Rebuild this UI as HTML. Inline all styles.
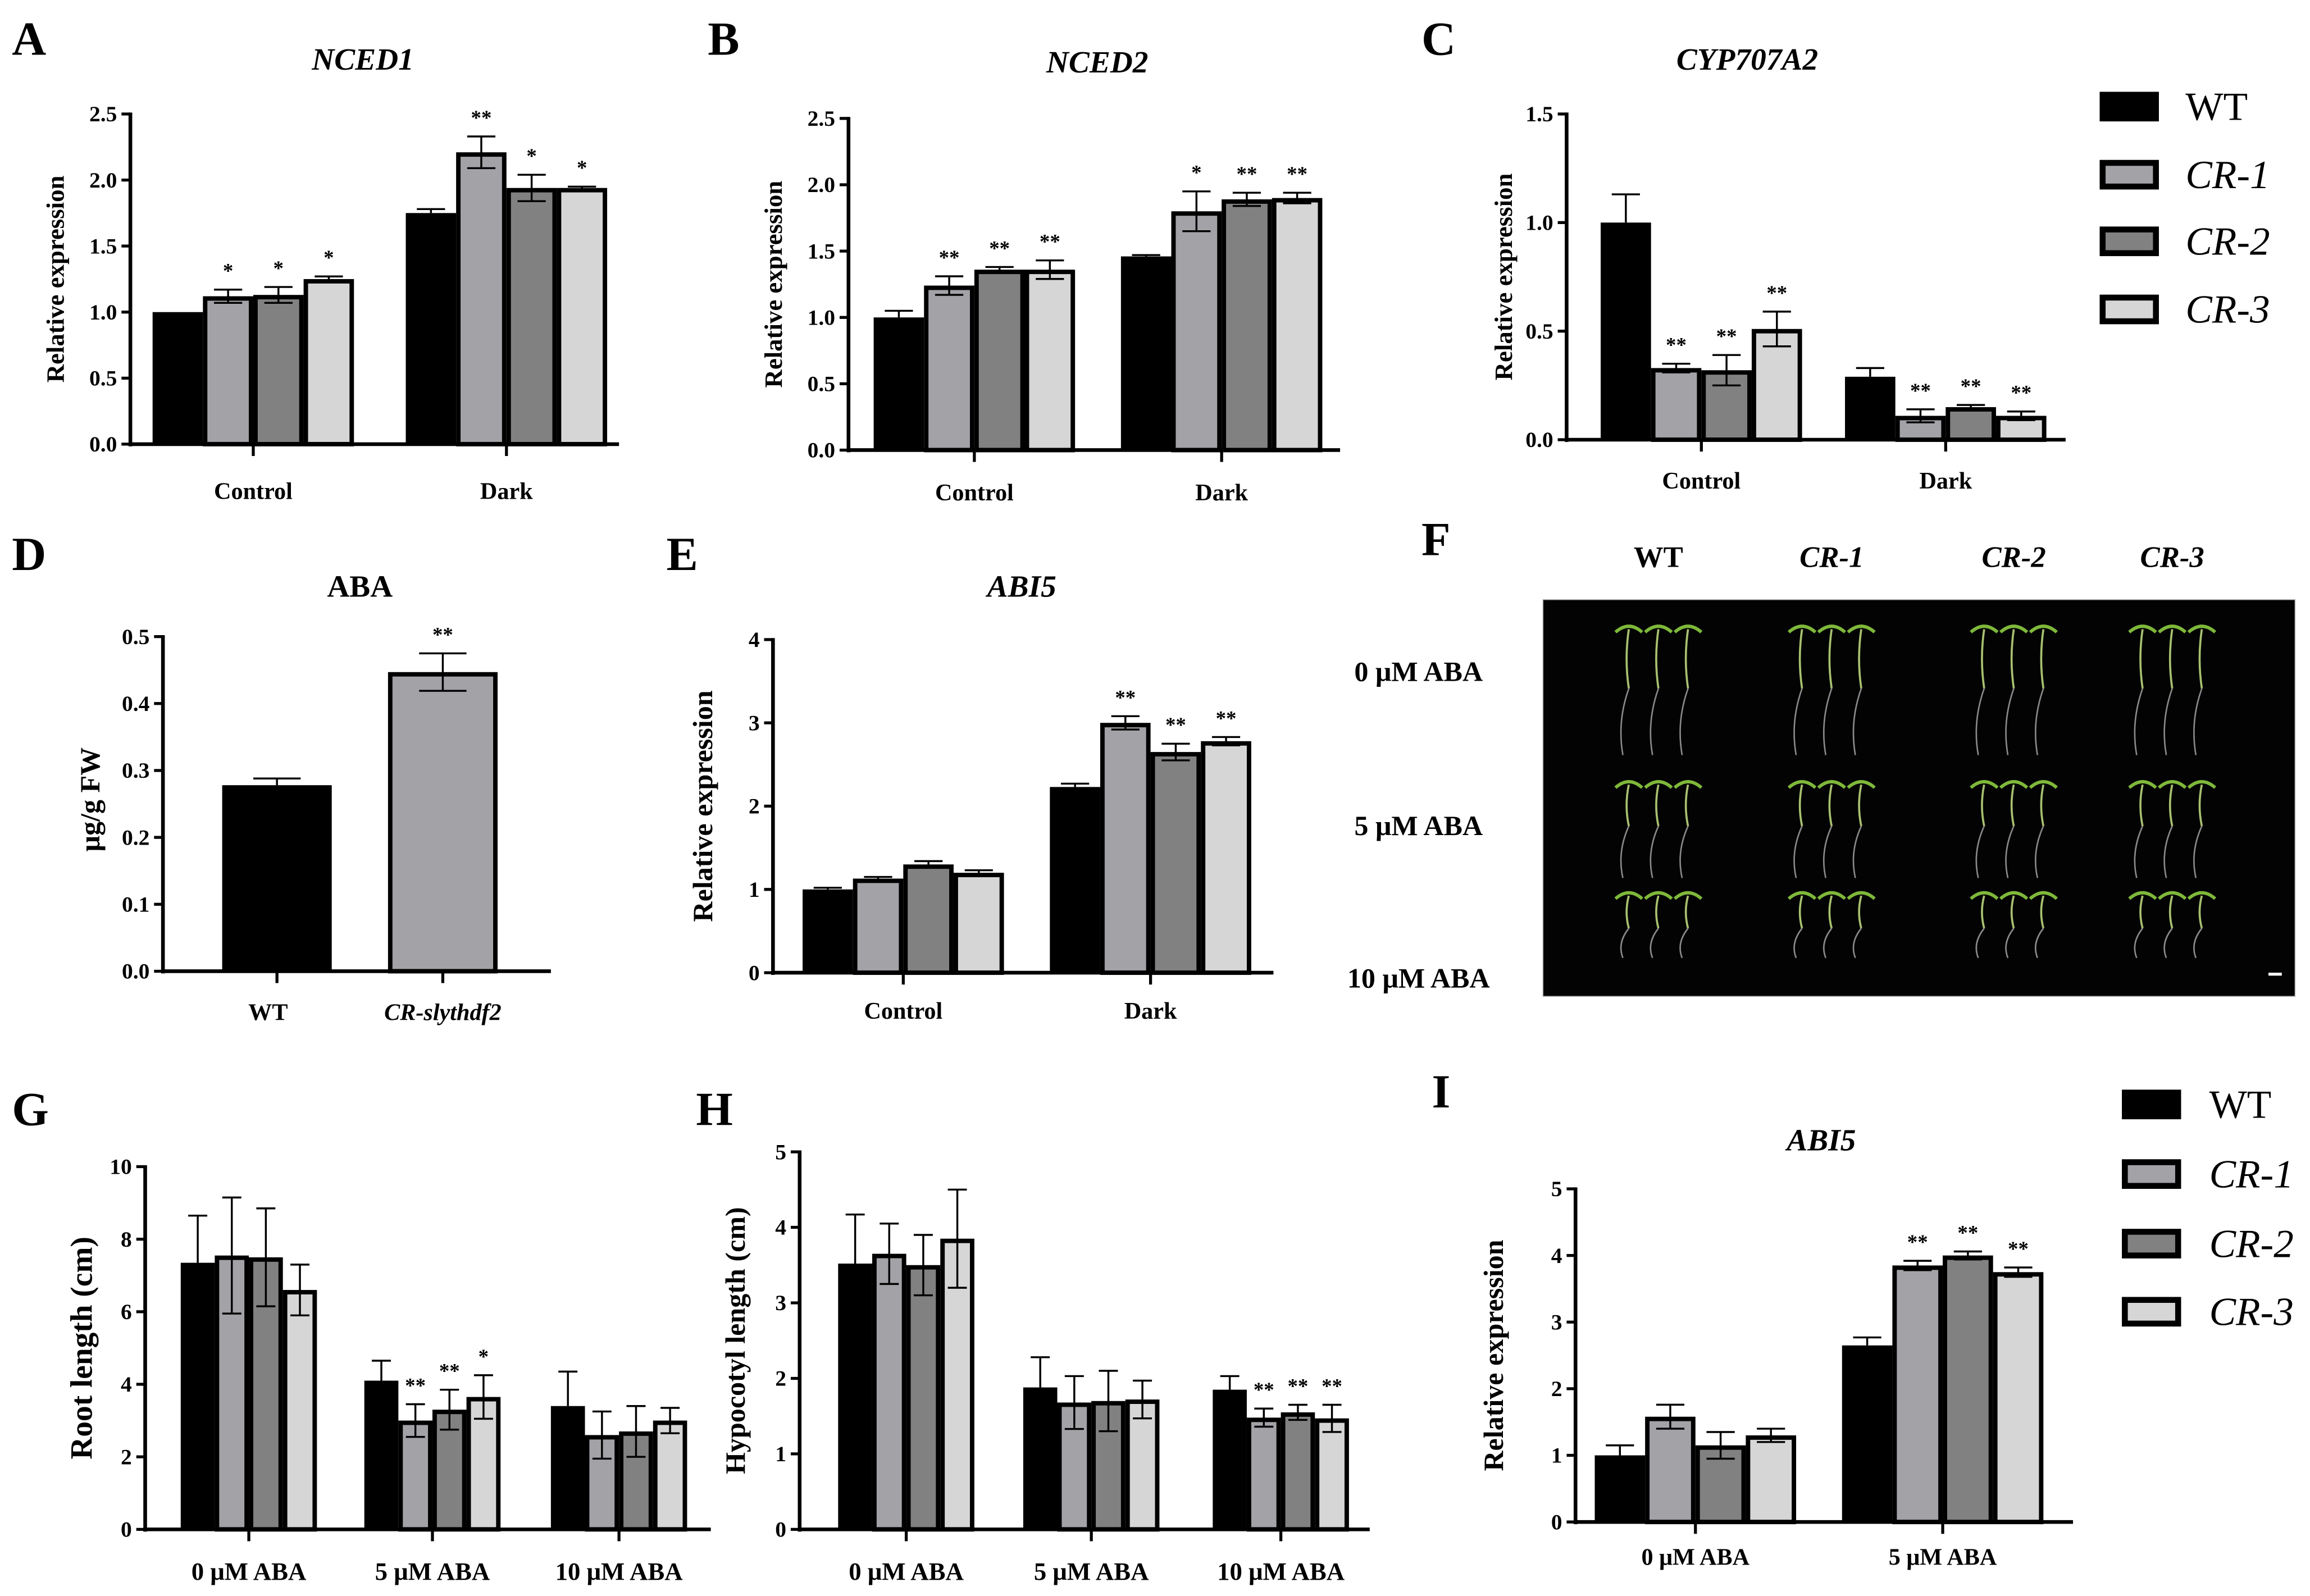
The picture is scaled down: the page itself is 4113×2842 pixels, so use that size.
<!DOCTYPE html>
<html><head><meta charset="utf-8"><style>
html,body{margin:0;padding:0;background:#fff;}
svg{display:block;}
text{font-family:"Liberation Serif",serif;}
</style></head><body>
<svg id="fig" width="4113" height="2842" viewBox="0 0 1560 1078" xmlns="http://www.w3.org/2000/svg">
<rect x="0" y="0" width="1560" height="1078" fill="#fff"/>
<g id="root"></g>
</svg>
<script>
// ---------- data ----------
const seriesNames = ["WT","CR-1","CR-2","CR-3"];
const seriesColors = ["#000000","#a2a2a7","#818181","#d6d6d6"];

const aGroups = ["Control","Dark"];
const aWT = [1.00,1.75], aCR1=[1.12,2.21], aCR2=[1.13,1.94], aCR3=[1.25,1.94];
const aErr = [[0.00,0.03],[0.05,0.12],[0.06,0.10],[0.02,0.01]];
const aStars = [["",""],["*","**"],["*","*"],["*","*"]];
const aTicks = [0,0.5,1.0,1.5,2.0,2.5];

const bGroups = ["Control","Dark"];
const bWT=[1.00,1.46], bCR1=[1.24,1.80], bCR2=[1.36,1.89], bCR3=[1.36,1.90];
const bErr=[[0.05,0.01],[0.07,0.15],[0.02,0.05],[0.07,0.04]];
const bStars=[["",""],["**","*"],["**","**"],["**","**"]];
const bTicks=[0,0.5,1.0,1.5,2.0,2.5];

const cGroups=["Control","Dark"];
const cWT=[1.00,0.29], cCR1=[0.33,0.11], cCR2=[0.32,0.15], cCR3=[0.51,0.11];
const cErr=[[0.13,0.04],[0.02,0.03],[0.07,0.01],[0.08,0.02]];
const cStars=[["",""],["**","**"],["**","**"],["**","**"]];
const cTicks=[0,0.5,1.0,1.5];

const dCats=["WT","CR-slythdf2"];
const dVals=[0.278,0.447];
const dErr=[0.010,0.028];
const dStars=["","**"];
const dTicks=[0,0.1,0.2,0.3,0.4,0.5];

const eGroups=["Control","Dark"];
const eWT=[1.00,2.23], eCR1=[1.13,3.00], eCR2=[1.30,2.65], eCR3=[1.20,2.78];
const eErr=[[0.02,0.04],[0.02,0.08],[0.04,0.10],[0.03,0.05]];
const eStars=[["",""],["","**"],["","**"],["","**"]];
const eTicks=[0,1,2,3,4];

const gGroups=["0 μM ABA","5 μM ABA","10 μM ABA"];
const gWT=[7.35,4.10,3.40], gCR1=[7.55,3.00,2.60], gCR2=[7.50,3.30,2.70], gCR3=[6.60,3.65,3.00];
const gErr=[[1.30,0.55,0.95],[1.60,0.45,0.65],[1.35,0.55,0.70],[0.70,0.60,0.35]];
const gStars=[["","",""],["","**",""],["","**",""],["","*",""]];
const gTicks=[0,2,4,6,8,10];

const hGroups=["0 μM ABA","5 μM ABA","10 μM ABA"];
const hWT=[3.52,1.88,1.85], hCR1=[3.65,1.68,1.48], hCR2=[3.50,1.70,1.55], hCR3=[3.85,1.72,1.47];
const hErr=[[0.65,0.40,0.18],[0.40,0.35,0.12],[0.40,0.40,0.10],[0.65,0.25,0.18]];
const hStars=[["","",""],["","","**"],["","","**"],["","","**"]];
const hTicks=[0,1,2,3,4,5];

const iGroups=["0 μM ABA","5 μM ABA"];
const iWT=[1.00,2.65], iCR1=[1.58,3.85], iCR2=[1.15,4.00], iCR3=[1.30,3.75];
const iErr=[[0.15,0.12],[0.18,0.07],[0.20,0.06],[0.10,0.07]];
const iStars=[["",""],["","**"],["","**"],["","**"]];
const iTicks=[0,1,2,3,4,5];

// ---------- drawing ----------
const NS="http://www.w3.org/2000/svg";
const root=document.getElementById('root');
function el(tag,attrs,parent,txt){
  const e=document.createElementNS(NS,tag);
  for(const k in attrs) e.setAttribute(k,attrs[k]);
  if(txt!==undefined) e.textContent=txt;
  (parent||root).appendChild(e);
  return e;
}
function fmt(v,dec){return v.toFixed(dec);}

function panel(c){
  const g=el('g',{});
  
  
  const ys=v=>c.y0-(v/c.ymax)*(c.y0-c.yTop);
  const L=el('text',{x:c.letterX,y:c.letterY,'font-size':32,'font-weight':'bold'},g,c.letter);
  
  
  if(c.title){
    const t=el('text',{x:c.titleX,y:c.titleY,'font-size':21,'font-weight':'bold','font-style':c.titleItalic?'italic':'normal','text-anchor':'middle'},g,c.title);
    
    
  }
  c.series.forEach((vals,s)=>{
    vals.forEach((v,gi)=>{
      const n=c.series.length;
      const x=c.centers[gi]-n*c.bw/2+s*c.bw;
      const y=ys(v), h=c.y0-y;
      const isWT=(c.colors[s]==="#000000");
      const r=el('rect',{x:x+(isWT?0:1.5),y:y+(isWT?0:1.5),width:c.bw-(isWT?0:3),height:Math.max(0,h-(isWT?0:1.5)),fill:c.colors[s],stroke:'#000','stroke-width':isWT?0:3},g);
      
      
      const e=c.err[s][gi];
      if(e>0){
        const cx=x+c.bw/2, yt=ys(v+e), yb=ys(v-e);
        el('line',{x1:cx,x2:cx,y1:yt,y2:isWT?y:yb,stroke:'#000','stroke-width':1.3},g);
        const hw=c.bw*0.28;
        el('line',{x1:cx-hw,x2:cx+hw,y1:yt,y2:yt,stroke:'#000','stroke-width':1.3},g);
        if(!isWT) el('line',{x1:cx-hw,x2:cx+hw,y1:yb,y2:yb,stroke:'#000','stroke-width':1.3},g);
      }
      const st=c.stars[s][gi];
      if(st){
        const t=el('text',{x:x+c.bw/2,y:ys(v+e)-8,'font-size':14,'font-weight':'bold','text-anchor':'middle'},g,st);
        
        
      }
    });
  });
  el('line',{x1:c.ax,x2:c.ax,y1:c.yTop-1,y2:c.y0+1.5,stroke:'#000','stroke-width':2.5},g);
  el('line',{x1:c.ax-1,x2:c.axEnd,y1:c.y0,y2:c.y0,stroke:'#000','stroke-width':2.5},g);
  c.ticks.forEach(v=>{
    const y=ys(v);
    el('line',{x1:c.ax-6,x2:c.ax,y1:y,y2:y,stroke:'#000','stroke-width':2},g);
    const t=el('text',{x:c.ax-9,y:y+5,'font-size':15,'font-weight':'bold','text-anchor':'end'},g,fmt(v,c.dec));
    
    
  });
  c.centers.forEach((cx,i)=>{
    el('line',{x1:cx,x2:cx,y1:c.y0,y2:c.y0+8,stroke:'#000','stroke-width':2},g);
    const t=el('text',{x:cx,y:c.y0+c.labDy,'font-size':c.labFs||16,'font-weight':'bold','text-anchor':'middle'},g,c.groups[i]);
    
    
  });
  const yt=el('text',{x:0,y:0,'font-size':c.ytFs||17,'font-weight':'bold','text-anchor':'middle',transform:`translate(${c.ytX},${(c.y0+c.yTop)/2}) rotate(-90)`},g,c.ytitle);
  
  
}

panel({name:'chart-a-nced1',letter:'A',letterX:8,letterY:37,title:'NCED1',titleItalic:true,titleX:245,titleY:47,
  ax:88,axEnd:418,y0:300,yTop:77,ymax:2.5,ticks:aTicks,dec:1,bw:34,centers:[171,342],groups:aGroups,labDy:37,
  series:[aWT,aCR1,aCR2,aCR3],err:aErr,stars:aStars,colors:seriesColors,ytitle:'Relative expression',ytX:43});
panel({name:'chart-b-nced2',letter:'B',letterX:478,letterY:37,title:'NCED2',titleItalic:true,titleX:741,titleY:49,
  ax:573,axEnd:905,y0:304,yTop:80,ymax:2.5,ticks:bTicks,dec:1,bw:34,centers:[658,825],groups:bGroups,labDy:34,
  series:[bWT,bCR1,bCR2,bCR3],err:bErr,stars:bStars,colors:seriesColors,ytitle:'Relative expression',ytX:528});
panel({name:'chart-c-cyp707a2',letter:'C',letterX:960,letterY:37,title:'CYP707A2',titleItalic:true,titleX:1180,titleY:47,
  ax:1058,axEnd:1395,y0:297,yTop:77,ymax:1.5,ticks:cTicks,dec:1,bw:34,centers:[1149,1314],groups:cGroups,labDy:33,
  series:[cWT,cCR1,cCR2,cCR3],err:cErr,stars:cStars,colors:seriesColors,ytitle:'Relative expression',ytX:1021});
panel({name:'chart-e-abi5',letter:'E',letterX:450,letterY:385,title:'ABI5',titleItalic:true,titleX:690,titleY:403,
  ax:522,axEnd:860,y0:657,yTop:432,ymax:4,ticks:eTicks,dec:0,bw:34,centers:[610,777],groups:eGroups,labDy:31,
  series:[eWT,eCR1,eCR2,eCR3],err:eErr,stars:eStars,colors:seriesColors,ytitle:'Relative expression',ytX:481,ytFs:19});
panel({name:'chart-g-root-length',letter:'G',letterX:8,letterY:760,title:null,
  ax:98,axEnd:480,y0:1033,yTop:788,ymax:10,ticks:gTicks,dec:0,bw:23,centers:[168,292,418],groups:gGroups,labDy:34,labFs:17,
  series:[gWT,gCR1,gCR2,gCR3],err:gErr,stars:gStars,colors:seriesColors,ytitle:'Root length (cm)',ytX:62,ytFs:21});
panel({name:'chart-h-hypocotyl-length',letter:'H',letterX:470,letterY:760,title:null,
  ax:540,axEnd:925,y0:1033,yTop:778,ymax:5,ticks:hTicks,dec:0,bw:23,centers:[612,737,865],groups:hGroups,labDy:34,labFs:17,
  series:[hWT,hCR1,hCR2,hCR3],err:hErr,stars:hStars,colors:seriesColors,ytitle:'Hypocotyl length (cm)',ytX:503,ytFs:19});
panel({name:'chart-i-abi5',letter:'I',letterX:967,letterY:748,title:'ABI5',titleItalic:true,titleX:1230,titleY:777,
  ax:1064,axEnd:1400,y0:1028,yTop:803,ymax:5,ticks:iTicks,dec:0,bw:34,centers:[1145,1312],groups:iGroups,labDy:29,
  series:[iWT,iCR1,iCR2,iCR3],err:iErr,stars:iStars,colors:seriesColors,ytitle:'Relative expression',ytX:1015,ytFs:19});

// Panel D
(function(){
  const g=el('g',{});
  
  
  const ax=110,y0=656,yTop=430,ymax=0.5,centers=[187,299],bw=74;
  const ys=v=>y0-(v/ymax)*(y0-yTop);
  const L=el('text',{x:8,y:385,'font-size':32,'font-weight':'bold'},g,'D');
  
  
  const t=el('text',{x:243,y:403,'font-size':21,'font-weight':'bold','text-anchor':'middle'},g,'ABA');
  
  
  dVals.forEach((v,i)=>{
    const x=centers[i]-bw/2,y=ys(v);
    const wt=i===0;
    const r=el('rect',{x:x+(wt?0:1.5),y:y+(wt?0:1.5),width:bw-(wt?0:3),height:y0-y-(wt?0:1.5),fill:seriesColors[wt?0:1],stroke:'#000','stroke-width':wt?0:3},g);
    
    
    const e=dErr[i],cx=centers[i],yt=ys(v+e),yb=ys(v-e),hw=16;
    el('line',{x1:cx,x2:cx,y1:yt,y2:wt?y:yb,stroke:'#000','stroke-width':1.3},g);
    el('line',{x1:cx-hw,x2:cx+hw,y1:yt,y2:yt,stroke:'#000','stroke-width':1.3},g);
    if(!wt) el('line',{x1:cx-hw,x2:cx+hw,y1:yb,y2:yb,stroke:'#000','stroke-width':1.3},g);
    if(dStars[i]){
      const s=el('text',{x:cx,y:yt-8,'font-size':14,'font-weight':'bold','text-anchor':'middle'},g,dStars[i]);
      
      
    }
    el('line',{x1:cx,x2:cx,y1:y0,y2:y0+8,stroke:'#000','stroke-width':2},g);
    const lb=el('text',{x:cx-(i?0:6),y:y0+33,'font-size':16,'font-weight':'bold','font-style':i?'italic':'normal','text-anchor':'middle'},g,dCats[i]);
    
    
  });
  el('line',{x1:ax,x2:ax,y1:yTop-1,y2:y0+1.5,stroke:'#000','stroke-width':2.5},g);
  el('line',{x1:ax-1,x2:372,y1:y0,y2:y0,stroke:'#000','stroke-width':2.5},g);
  dTicks.forEach(v=>{
    const y=ys(v);
    el('line',{x1:ax-6,x2:ax,y1:y,y2:y,stroke:'#000','stroke-width':2},g);
    const tl=el('text',{x:ax-9,y:y+5,'font-size':15,'font-weight':'bold','text-anchor':'end'},g,v.toFixed(1));
    
    
  });
  const yt=el('text',{x:0,y:0,'font-size':19,'font-weight':'bold','text-anchor':'middle',transform:`translate(67,540) rotate(-90)`},g,'μg/g FW');
  
  
})();

// Legends
function legend(x,ys,tx,fs,name){
  const g=el('g',{});
  
  
  seriesNames.forEach((n,i)=>{
    const wt=i===0;
    el('rect',{x:x+(wt?0:2),y:ys[i]-10+(wt?0:2),width:40-(wt?0:4),height:20-(wt?0:4),fill:seriesColors[i],stroke:'#000','stroke-width':wt?0:4},g);
    const t=el('text',{x:tx,y:ys[i]+9,'font-size':fs,'font-style':wt?'normal':'italic'},g,n);
    
    
  });
}
legend(1418,[72,118,163,209],1476,27,'legend-top');
legend(1433,[746,793,840,886],1492,27,'legend-bottom');

// Panel F photo
(function(){
  const g=el('g',{});
  
  
  const L=el('text',{x:960,y:375,'font-size':32,'font-weight':'bold'},g,'F');
  
  
  const cols=[["WT",1120,false],["CR-1",1237,true],["CR-2",1360,true],["CR-3",1467,true]];
  cols.forEach(c=>{
    const t=el('text',{x:c[1],y:383,'font-size':20,'font-weight':'bold','font-style':c[2]?'italic':'normal','text-anchor':'middle'},g,c[0]);
    
    
  });
  const rows=[["0 μM ABA",460],["5 μM ABA",564],["10 μM ABA",667]];
  rows.forEach(r=>{
    const t=el('text',{x:958,y:r[1],'font-size':19,'font-weight':'bold','text-anchor':'middle'},g,r[0]);
    
    
  });
  const ph=el('rect',{x:1042,y:405,width:508,height:268,fill:'#030303',stroke:'#bbb','stroke-width':0.6},g);
  
  
  const colX=[1120,1237,1360,1467];
  const rowTop=[425,530,605], hyp=[40,28,22], rootL=[45,35,20];
  for(let r=0;r<3;r++)for(let c=0;c<4;c++)for(let k=-1;k<=1;k++){
    const x=colX[c]+k*20, y=rowTop[r];
    el('path',{d:`M${x},${y+hyp[r]} Q${x-3},${y+hyp[r]/2} ${x},${y}`,stroke:'#a8c070','stroke-width':1.4,fill:'none'},g);
    el('path',{d:`M${x-9},${y+2} Q${x},${y-6} ${x+9},${y+2}`,stroke:'#7fb83a','stroke-width':2.2,fill:'none'},g);
    el('path',{d:`M${x},${y+hyp[r]} Q${x-8},${y+hyp[r]+rootL[r]/2} ${x-4},${y+hyp[r]+rootL[r]}`,stroke:'#8a8a8a','stroke-width':1,fill:'none'},g);
  }
  el('rect',{x:1532,y:657,width:9,height:2,fill:'#fff'},g);
})();
</script>
</body></html>
